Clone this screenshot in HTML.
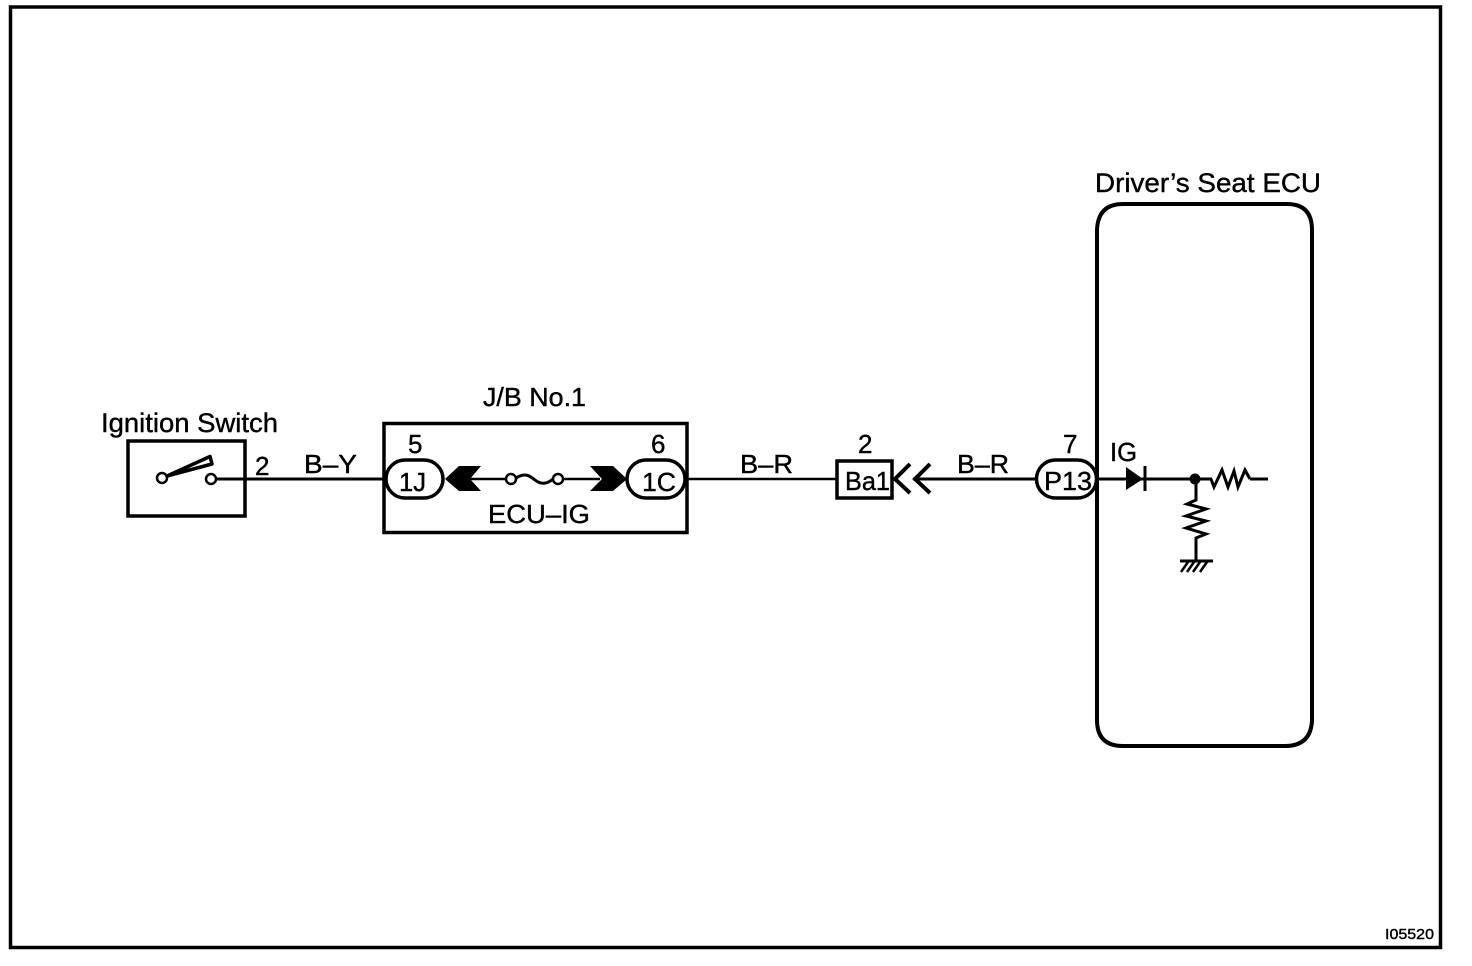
<!DOCTYPE html>
<html>
<head>
<meta charset="utf-8">
<style>
html,body{margin:0;padding:0;background:#fff;}
svg{display:block;}
text{font-family:"Liberation Sans",sans-serif;fill:#000;stroke:#000;stroke-width:0.4;}
</style>
</head>
<body>
<svg width="1472" height="966" viewBox="0 0 1472 966" xmlns="http://www.w3.org/2000/svg">
<rect width="1472" height="966" fill="#fff"/>
<!-- outer frame -->
<rect x="10.5" y="7" width="1430" height="940.5" fill="none" stroke="#000" stroke-width="3.5"/>

<!-- wires -->
<g stroke="#000" stroke-width="2.5" fill="none">
<line x1="215" y1="479" x2="386" y2="479" stroke-width="3"/>
<line x1="470" y1="479" x2="505" y2="479"/>
<line x1="564" y1="479" x2="600" y2="479"/>
<line x1="686" y1="479" x2="837" y2="479"/>
<line x1="913" y1="479" x2="1037" y2="479" stroke-width="3"/>
<line x1="1097" y1="479" x2="1212" y2="479" stroke-width="3"/>
<line x1="1250" y1="479" x2="1268" y2="479" stroke-width="3"/>
</g>

<!-- ignition switch -->
<rect x="128" y="441" width="117" height="75" fill="none" stroke="#000" stroke-width="3.5"/>
<circle cx="162" cy="478" r="5" fill="#fff" stroke="#000" stroke-width="2.5"/>
<circle cx="211" cy="479" r="5" fill="#fff" stroke="#000" stroke-width="2.5"/>
<path d="M167 476 L210 456.5 L212 464 Z" fill="#fff" stroke="#000" stroke-width="3.5" stroke-linejoin="round"/>

<!-- J/B box -->
<rect x="384" y="423.5" width="303" height="109" fill="none" stroke="#000" stroke-width="3.5"/>
<rect x="386" y="460" width="57" height="38" rx="19" ry="19" fill="#fff" stroke="#000" stroke-width="3.5"/>
<rect x="627" y="460" width="58" height="38" rx="19" ry="19" fill="#fff" stroke="#000" stroke-width="3.5"/>
<polygon points="445,479 459,466 481,466 470,479 481,491 459,491" fill="#000"/>
<polygon points="627,479 613,466 590,466 602,479 590,491 613,491" fill="#000"/>
<circle cx="511" cy="479" r="5" fill="#fff" stroke="#000" stroke-width="2.5"/>
<circle cx="558" cy="479" r="5" fill="#fff" stroke="#000" stroke-width="2.5"/>
<path d="M516 478 C525 472 530 476 535 480 C540 484 546 485 553 479" fill="none" stroke="#000" stroke-width="3"/>

<!-- Ba1 connector -->
<rect x="837" y="461" width="55" height="37" fill="#fff" stroke="#000" stroke-width="3.5"/>
<path d="M910 464 L895 479 L910 493 M930 464 L915 479 L930 493" fill="none" stroke="#000" stroke-width="4"/>

<!-- ECU -->
<path d="M1123 204 H1287 Q1312 204 1312 230 V720 Q1311 746 1285 746 H1123 Q1097 746 1097 720 V230 Q1098 204 1123 204 Z" fill="none" stroke="#000" stroke-width="4"/>
<rect x="1036.5" y="460" width="60" height="38" rx="19" ry="19" fill="#fff" stroke="#000" stroke-width="3.5"/>
<line x1="1097" y1="440" x2="1097" y2="520" stroke="#000" stroke-width="4"/>

<!-- diode -->
<polygon points="1126,467 1143,479 1126,490" fill="#000"/>
<line x1="1145" y1="466" x2="1145" y2="491" stroke="#000" stroke-width="3"/>
<circle cx="1195" cy="479" r="5.5" fill="#000"/>
<path d="M1211 479 L1214 487 L1222 470 L1228 487 L1234 471 L1238 487 L1245 470 L1250 479" fill="none" stroke="#000" stroke-width="3"/>
<path d="M1196 479 V500 L1187 504 L1206 509 L1186 516 L1206 521 L1186 528 L1206 534 L1196 538 V561" fill="none" stroke="#000" stroke-width="3"/>
<line x1="1180" y1="561" x2="1213" y2="561" stroke="#000" stroke-width="3"/>
<path d="M1188 562 L1181 572 M1194 562 L1187 572 M1200 562 L1193 572 M1207 562 L1200 572" stroke="#000" stroke-width="2.5" fill="none"/>

<!-- text -->
<text x="101" y="432" font-size="27" textLength="177" lengthAdjust="spacingAndGlyphs">Ignition Switch</text>
<text x="255" y="475" font-size="26">2</text>
<text x="304" y="473" font-size="26" textLength="53" lengthAdjust="spacingAndGlyphs">B–Y</text>
<text x="408" y="453" font-size="26">5</text>
<text x="399" y="491" font-size="26" textLength="27" lengthAdjust="spacingAndGlyphs">1J</text>
<text x="483" y="406" font-size="26" textLength="103" lengthAdjust="spacingAndGlyphs">J/B No.1</text>
<text x="651" y="453" font-size="26">6</text>
<text x="642" y="491" font-size="26" textLength="34" lengthAdjust="spacingAndGlyphs">1C</text>
<text x="488" y="523" font-size="26" textLength="102" lengthAdjust="spacingAndGlyphs">ECU–IG</text>
<text x="740" y="473" font-size="26" textLength="53" lengthAdjust="spacingAndGlyphs">B–R</text>
<text x="858" y="453" font-size="26">2</text>
<text x="845" y="490" font-size="26" textLength="45" lengthAdjust="spacingAndGlyphs">Ba1</text>
<text x="957" y="473" font-size="26" textLength="52" lengthAdjust="spacingAndGlyphs">B–R</text>
<text x="1063" y="453" font-size="26">7</text>
<text x="1044" y="490" font-size="26" textLength="48" lengthAdjust="spacingAndGlyphs">P13</text>
<text x="1110" y="461" font-size="26" textLength="27" lengthAdjust="spacingAndGlyphs">IG</text>
<text x="1095" y="192" font-size="27" textLength="226" lengthAdjust="spacingAndGlyphs">Driver’s Seat ECU</text>
<text x="1385" y="939" font-size="15" textLength="49" lengthAdjust="spacingAndGlyphs">I05520</text>
</svg>
</body>
</html>
